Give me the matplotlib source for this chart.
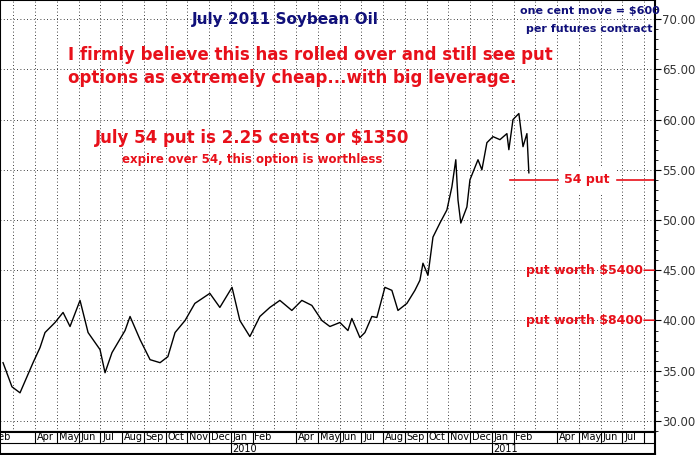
import numpy as np
import matplotlib.pyplot as plt

# x in months since Jan 2009 (0 = Jan 1 2009), y = price in cents/lb
months = [1.52, 1.93, 2.30, 2.90, 3.22, 3.45, 3.91, 4.28, 4.60, 5.06, 5.43, 5.98,
          6.21, 6.53, 7.13, 7.36, 7.82, 8.28, 8.74, 9.10, 9.43, 9.89, 10.34, 11.03,
          11.49, 12.05, 12.41, 12.87, 13.33, 13.79, 14.25, 14.80, 15.26, 15.72,
          16.18, 16.55, 17.01, 17.38, 17.56, 17.93, 18.16, 18.48, 18.71, 19.08,
          19.40, 19.68, 20.09, 20.46, 20.69, 20.83, 21.06, 21.29, 21.61, 21.93,
          22.16, 22.34, 22.44, 22.57, 22.85, 22.99, 23.36, 23.54, 23.77, 24.05,
          24.37, 24.69, 24.78, 24.97, 25.24, 25.43, 25.61, 25.70]
prices = [35.8, 33.4, 32.8, 35.8, 37.3, 38.8, 39.8, 40.8, 39.4, 42.0, 38.8, 37.1,
          34.8, 36.8, 39.0, 40.4, 38.1, 36.1, 35.8, 36.4, 38.8, 40.0, 41.7, 42.7,
          41.3, 43.3, 40.0, 38.4, 40.4, 41.3, 42.0, 41.0, 42.0, 41.5,
          40.0, 39.4, 39.8, 39.0, 40.2, 38.3, 38.8, 40.4, 40.3, 43.3,
          43.0, 41.0, 41.7, 43.0, 44.0, 45.7, 44.5, 48.3, 49.7, 51.0,
          53.3, 56.0, 52.0, 49.7, 51.3, 54.0, 56.0, 55.0, 57.7, 58.3,
          58.0, 58.6, 57.0, 60.0, 60.6, 57.3, 58.6, 54.7]
price_ticks = [30, 35, 40, 45, 50, 55, 60, 65, 70]
month_names = ["Jan", "Feb", "Mar", "Apr", "May", "Jun", "Jul", "Aug", "Sep", "Oct", "Nov", "Dec"]

navy = "#10107a"
red = "#e8101a"

fig = plt.figure(figsize=(6.97, 4.55), dpi=100)
ax = fig.add_axes([0, 23/455, 655/697, 432/455])
x0, x1 = 1.38, 31.5
ax.set_xlim(x0, x1)
ax.set_ylim(28.9, 71.9)

ax.plot(months, prices, color="black", lw=1.0)

# grid
for m in range(2, 32):
    ax.axvline(m, color="black", ls=(0, (1, 3)), lw=0.6)
for p in price_ticks:
    ax.axhline(p, color="black", ls=(0, (1, 3)), lw=0.6)

ax.yaxis.tick_right()
ax.set_yticks(price_ticks)
ax.set_yticklabels(["%.2f" % p for p in price_ticks], fontsize=8.5, color="#333333")
ax.set_yticks(np.arange(29, 72, 1), minor=True)
ax.tick_params(axis="y", which="major", length=4, pad=1)
ax.tick_params(axis="y", which="minor", length=2)
ax.set_xticks([])
for s in ax.spines.values():
    s.set_linewidth(1.5)

# annotations
ax.text(0.435, 0.955, "July 2011 Soybean Oil", transform=ax.transAxes, color=navy,
        fontsize=11, fontweight="bold", ha="center", va="center")
ax.text(0.9, 0.975, "one cent move = $600", transform=ax.transAxes, color=navy,
        fontsize=8, fontweight="bold", ha="center", va="center")
ax.text(0.9, 0.932, "per futures contract", transform=ax.transAxes, color=navy,
        fontsize=8, fontweight="bold", ha="center", va="center")
ax.text(0.104, 0.873, "I firmly believe this has rolled over and still see put", transform=ax.transAxes,
        color=red, fontsize=12, fontweight="bold", ha="left", va="center")
ax.text(0.104, 0.820, "options as extremely cheap...with big leverage.", transform=ax.transAxes,
        color=red, fontsize=12, fontweight="bold", ha="left", va="center")
ax.text(0.385, 0.680, "July 54 put is 2.25 cents or $1350", transform=ax.transAxes,
        color=red, fontsize=12, fontweight="bold", ha="center", va="center")
ax.text(0.385, 0.630, "expire over 54, this option is worthless", transform=ax.transAxes,
        color=red, fontsize=8.5, fontweight="bold", ha="center", va="center")

put_x = 12 + (510 - 231) / 21.75
ax.plot([put_x, x1], [54, 54], color=red, lw=1.2)
ax.text((put_x + x1) / 2 + 0.2, 54, "54 put", color=red, fontsize=9, fontweight="bold",
        ha="center", va="center", backgroundcolor="white")
ax.text(x1, 45, "put worth $5400\u2014", color=red, fontsize=9, fontweight="bold",
        ha="right", va="center")
ax.text(x1, 40, "put worth $8400\u2014", color=red, fontsize=9, fontweight="bold",
        ha="right", va="center")

# date axis strip
bx = fig.add_axes([0, 1/455, 655/697, 22/455])
bx.set_xlim(x0, x1)
bx.set_ylim(0, 2)
bx.set_xticks([])
bx.set_yticks([])
for s in bx.spines.values():
    s.set_linewidth(1.5)
bx.axhline(1, color="black", lw=0.8)
for m in range(1, 31):
    if m % 12 == 2:
        continue  # March labels are skipped
    bx.plot([m, m], [1, 2], color="black", lw=0.8)
    bx.text(m + 0.08, 1.5, month_names[m % 12], fontsize=7, ha="left", va="center")
bx.plot([31, 31], [1, 2], color="black", lw=0.8)
bx.text(1.1, 1.5, "Feb", fontsize=7, ha="right", va="center")
for yr, m in [("2010", 12), ("2011", 24)]:
    bx.plot([m, m], [0, 1], color="black", lw=0.8)
    bx.text(m + 0.08, 0.5, yr, fontsize=7, ha="left", va="center")

fig.savefig("out.png", dpi=100)
